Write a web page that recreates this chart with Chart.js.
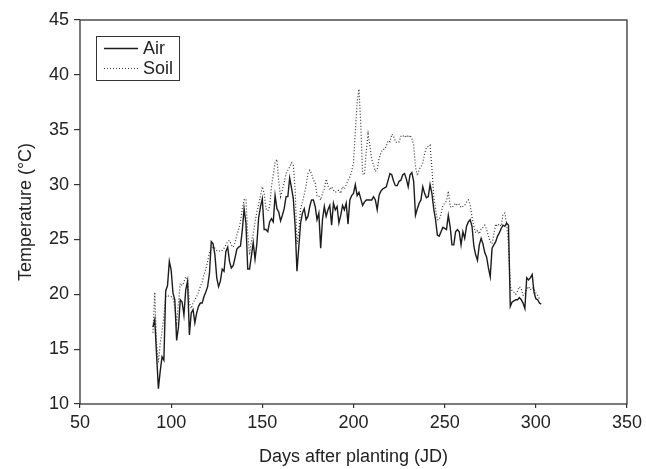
<!DOCTYPE html>
<html>
<head>
<meta charset="utf-8">
<script src="https://cdn.jsdelivr.net/npm/chart.js@4.4.1/dist/chart.umd.min.js"></script>
<style>
  html, body { margin: 0; padding: 0; background: #fff; }
  #wrap { width: 646px; height: 469px; }
</style>
</head>
<body>
<div id="wrap"><canvas id="tempChart" width="646" height="469"></canvas></div>
<script>
// days (JD) of the record
const days = [
  90, 91, 92, 93, 94, 95, 96, 97, 98, 99, 100, 101, 102, 103, 104, 105, 106, 107, 108, 109,
  110, 111, 112, 113, 114, 115, 116, 117, 118, 119, 120, 121, 122, 123, 124, 125, 126, 127, 128, 129,
  130, 131, 132, 133, 134, 135, 136, 137, 138, 139, 140, 141, 142, 143, 144, 145, 146, 147, 148, 149,
  150, 151, 152, 153, 154, 155, 156, 157, 158, 159, 160, 161, 162, 163, 164, 165, 166, 167, 168, 169,
  170, 171, 172, 173, 174, 175, 176, 177, 178, 179, 180, 181, 182, 183, 184, 185, 186, 187, 188, 189,
  190, 191, 192, 193, 194, 195, 196, 197, 198, 199, 200, 201, 202, 203, 204, 205, 206, 207, 208, 209,
  210, 211, 212, 213, 214, 215, 216, 217, 218, 219, 220, 221, 222, 223, 224, 225, 226, 227, 228, 229,
  230, 231, 232, 233, 234, 235, 236, 237, 238, 239, 240, 241, 242, 243, 244, 245, 246, 247, 248, 249,
  250, 251, 252, 253, 254, 255, 256, 257, 258, 259, 260, 261, 262, 263, 264, 265, 266, 267, 268, 269,
  270, 271, 272, 273, 274, 275, 276, 277, 278, 279, 280, 281, 282, 283, 284, 285, 286, 287, 288, 289,
  290, 291, 292, 293, 294, 295, 296, 297, 298, 299, 300, 301, 302, 303
];

const airTemp = [
  17.0, 17.7, 14.5, 11.4, 13.0, 14.3, 14.0, 20.3, 20.8, 23.0, 22.2, 20.1, 19.5, 15.8, 17.0, 19.5, 19.3, 18.1, 20.4, 21.2,
  16.3, 18.3, 18.6, 17.4, 18.3, 18.9, 19.2, 19.2, 19.8, 20.2, 20.7, 21.9, 24.8, 24.6, 23.6, 21.5, 20.7, 21.2, 22.3, 22.1,
  23.9, 24.3, 23.0, 22.4, 22.6, 23.3, 24.1, 24.3, 24.4, 25.8, 27.8, 26.5, 22.3, 22.3, 23.5, 24.7, 23.2, 24.6, 27.0, 28.0,
  28.7, 25.9, 25.9, 25.7, 26.6, 26.9, 26.6, 29.0, 27.8, 27.5, 26.7, 27.2, 27.8, 28.9, 28.9, 30.6, 29.7, 28.7, 26.2, 22.1,
  24.3, 26.5, 27.4, 27.8, 26.8, 27.1, 28.0, 28.6, 28.6, 28.0, 26.8, 27.4, 24.2, 26.8, 28.0, 27.1, 27.7, 28.1, 26.3, 28.3,
  27.7, 28.0, 26.5, 27.2, 28.1, 27.7, 28.3, 26.4, 28.6, 29.0, 29.2, 30.0, 29.0, 29.3, 28.7, 28.1, 28.4, 28.6, 28.6, 28.6,
  28.6, 28.9, 28.6, 27.7, 29.0, 29.4, 29.6, 29.7, 29.8, 30.4, 31.0, 30.9, 30.3, 29.9, 29.9, 30.3, 30.4, 30.9, 31.0, 30.5,
  29.8, 30.9, 31.1, 30.3, 27.2, 27.8, 28.3, 28.6, 29.8, 29.2, 28.8, 28.9, 30.0, 29.2, 27.8, 26.8, 25.4, 25.3, 25.7, 26.1,
  26.0, 25.9, 27.2, 26.2, 24.5, 24.5, 25.7, 25.9, 25.7, 24.5, 25.7, 25.1, 26.2, 26.6, 26.8, 26.2, 24.4, 23.6, 23.1, 24.5,
  25.1, 24.6, 23.8, 23.4, 22.4, 21.6, 24.2, 24.5, 24.8, 25.3, 25.6, 26.0, 26.3, 26.2, 26.5, 26.3, 18.9, 19.3, 19.4, 19.5,
  19.5, 19.7, 19.5, 19.2, 18.7, 21.5, 21.3, 21.5, 21.8, 20.2, 19.6, 19.5, 19.2, 19.1
];

const soilTemp = [
  16.5, 20.2, 15.5, 13.8, 15.5, 16.6, 18.0, 19.8, 19.9, 19.8, 19.8, 19.6, 18.9, 17.4, 19.2, 21.0, 20.8, 21.1, 21.6, 21.4,
  19.2, 18.7, 19.2, 19.5, 19.8, 20.2, 20.7, 21.1, 21.8, 22.3, 23.0, 23.8, 24.2, 24.3, 24.2, 24.0, 23.9, 24.0, 24.0, 24.2,
  24.5, 24.8, 24.9, 24.5, 24.3, 24.7, 25.4, 25.9, 26.6, 27.8, 28.6, 28.7, 25.5, 23.6, 24.8, 25.5, 26.6, 27.5, 28.2, 29.0,
  29.8, 29.2, 27.8, 27.6, 28.0, 29.8, 30.9, 32.0, 32.3, 30.3, 28.9, 29.5, 30.2, 31.0, 31.3, 31.6, 32.0, 31.8, 29.5, 24.6,
  25.8, 27.8, 28.4, 29.1, 29.9, 31.0, 31.3, 31.0, 30.4, 30.2, 29.0, 29.0, 28.6, 29.2, 29.6, 30.5, 29.9, 29.5, 29.8, 29.5,
  29.3, 29.4, 29.5, 29.2, 29.8, 29.6, 30.0, 30.4, 30.7, 31.2, 32.0, 34.8, 37.5, 38.7, 35.5, 31.0, 30.9, 33.0, 34.6, 33.5,
  32.3, 31.8, 31.2, 31.4, 32.3, 32.9, 33.2, 33.2, 33.5, 34.0, 33.9, 34.6, 34.4, 33.9, 33.8, 33.9, 34.4, 34.5, 34.3, 34.5,
  34.3, 34.5, 34.2, 33.6, 31.6, 30.8, 31.4, 31.6, 32.0, 32.8, 33.4, 33.5, 33.6, 31.5, 29.0, 27.8, 26.8, 26.8, 27.3, 28.1,
  28.3, 28.5, 29.4, 28.0, 27.9, 28.1, 28.3, 28.1, 28.2, 27.9, 28.0, 28.1, 28.4, 28.6, 28.2, 27.0, 26.2, 25.6, 25.8, 25.5,
  26.0, 26.1, 26.3, 25.9, 25.3, 24.8, 24.6, 25.5, 26.4, 26.2, 26.4, 26.2, 27.3, 27.4, 26.4, 24.5, 20.7, 20.3, 20.2, 20.0,
  20.3, 20.7, 20.5, 19.9, 20.0, 20.5, 20.7, 20.4, 20.6, 20.5, 20.1, 19.9, 19.6, null
];

const xTicks = [50, 100, 150, 200, 250, 300, 350];
const yTicks = [10, 15, 20, 25, 30, 35, 40, 45];

const FONT = '"Liberation Sans", Arial, Helvetica, sans-serif';
const INK = '#222';

function toPoints(values) {
    return days.map((d, i) => ({x: d, y: values[i]}));
}

// full frame around the plot
const frame = {
    id: 'frame',
    afterDatasetsDraw(chart) {
        const a = chart.chartArea, ctx = chart.ctx;
        ctx.save();
        ctx.strokeStyle = '#333';
        ctx.lineWidth = 1.3;
        ctx.strokeRect(a.left, a.top, a.right - a.left, a.bottom - a.top);
        ctx.restore();
    }
};

// boxed legend in the top-left corner of the plot
const boxLegend = {
    id: 'boxLegend',
    afterDraw(chart) {
        const a = chart.chartArea, ctx = chart.ctx;
        const x0 = a.left + 16, y0 = a.top + 16;
        ctx.save();
        ctx.strokeStyle = '#333';
        ctx.lineWidth = 1;
        ctx.strokeRect(x0 + 0.5, y0 + 0.5, 83, 44);
        ctx.font = '18px ' + FONT;
        ctx.fillStyle = INK;
        ctx.textBaseline = 'middle';
        chart.data.datasets.forEach((ds, i) => {
            const y = y0 + 12.5 + i * 20;
            ctx.strokeStyle = ds.borderColor;
            ctx.lineWidth = ds.borderWidth;
            ctx.setLineDash(ds.borderDash || []);
            ctx.beginPath();
            ctx.moveTo(x0 + 8, y);
            ctx.lineTo(x0 + 42, y);
            ctx.stroke();
            ctx.setLineDash([]);
            ctx.fillText(ds.label, x0 + 47, y + 1);
        });
        ctx.restore();
    }
};

const ctx = document.getElementById('tempChart').getContext('2d');
const chart = new Chart(ctx, {
    type: 'line',
    data: {
        datasets: [
            {
                label: 'Air',
                data: toPoints(airTemp),
                borderColor: '#1c1c1c',
                borderWidth: 1.4,
                pointRadius: 0,
                tension: 0,
                spanGaps: false
            },
            {
                label: 'Soil',
                data: toPoints(soilTemp),
                borderColor: '#333',
                borderWidth: 1.2,
                borderDash: [1, 2],
                pointRadius: 0,
                tension: 0,
                spanGaps: false
            }
        ]
    },
    options: {
        responsive: false,
        animation: false,
        layout: {padding: {top: 20, right: 18, left: 0, bottom: 0}},
        plugins: {
            legend: {display: false},
            tooltip: {enabled: false}
        },
        scales: {
            x: {
                type: 'linear',
                min: 50,
                max: 350,
                afterBuildTicks: s => { s.ticks = xTicks.map(v => ({value: v})); },
                afterFit: s => { s.height = 65; },
                border: {display: false},
                grid: {drawOnChartArea: false, drawTicks: true, tickLength: 4, color: '#333', lineWidth: 1.2},
                ticks: {padding: 4, color: INK, font: {family: FONT, size: 18}, maxRotation: 0},
                title: {display: true, text: 'Days after planting (JD)', color: INK,
                        font: {family: FONT, size: 18}, padding: {top: 0, bottom: 1}}
            },
            y: {
                min: 10,
                max: 45,
                afterBuildTicks: s => { s.ticks = yTicks.map(v => ({value: v})); },
                afterFit: s => { s.width = 80; },
                border: {display: false},
                grid: {drawOnChartArea: false, drawTicks: true, tickLength: 6, color: '#333', lineWidth: 1.2},
                ticks: {padding: 5, color: INK, font: {family: FONT, size: 18}},
                title: {display: true, text: 'Temperature (°C)', color: INK,
                        font: {family: FONT, size: 18}, padding: {top: 15, bottom: 0}}
            }
        }
    },
    plugins: [frame, boxLegend]
});
</script>
</body>
</html>
